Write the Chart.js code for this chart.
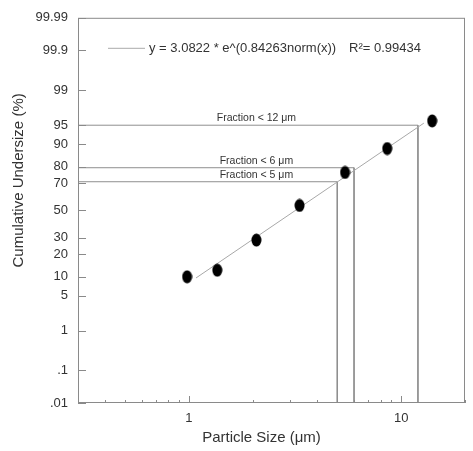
<!DOCTYPE html>
<html>
<head>
<meta charset="utf-8">
<script src="https://cdn.jsdelivr.net/npm/chart.js@4.4.1/dist/chart.umd.min.js"></script>
<style>
html, body { margin: 0; padding: 0; background: #fff; }
#wrap { width: 473px; height: 451px; }
</style>
</head>
<body>
<div id="wrap"><canvas id="main-chart"></canvas></div>
<script>
// measured points: particle size (um) vs cumulative undersize (%)
const particleSize = [0.98, 1.36, 2.08, 3.32, 5.44, 8.6, 14.0];
const undersize = [10.0, 12.4, 28.3, 53.8, 76.8, 88.4, 95.8];

// fitted line end points
const fitSize = [1.08, 12.8];
const fitUndersize = [9.6, 95.4];
const fitLabel = 'y = 3.0822 * e^(0.84263norm(x))';
const fitR2 = 'R\u00b2= 0.99434';

// "fraction below" guide lines
const refSizes = [12, 6, 5];
const refUndersize = [95, 79.5, 71];
const refLabels = ['Fraction < 12 \u03bcm', 'Fraction < 6 \u03bcm', 'Fraction < 5 \u03bcm'];

// axes
const xMin = 0.3;
const xMax = 20;
const xTicks = [0.3, 0.4, 0.5, 0.6, 0.7, 0.8, 0.9, 1, 2, 3, 4, 5, 6, 7, 8, 9, 10, 20];
const xMajor = [1, 10];
const yTicks = [0.01, 0.1, 1, 5, 10, 20, 30, 50, 70, 80, 90, 95, 99, 99.9, 99.99];
const yTickLabels = ['.01', '.1', '1', '5', '10', '20', '30', '50', '70', '80', '90', '95', '99', '99.9', '99.99'];

const xTitle = 'Particle Size (\u03bcm)';
const yTitle = 'Cumulative Undersize (%)';

const FONT = '"Liberation Sans", Arial, sans-serif';

// inverse normal CDF (probability axis), Acklam's approximation
function probit(pct) {
    const p = pct / 100;
    const a = [-3.969683028665376e+01, 2.209460984245205e+02, -2.759285104469687e+02, 1.383577518672690e+02, -3.066479806614716e+01, 2.506628277459239e+00];
    const b = [-5.447609879822406e+01, 1.615858368580409e+02, -1.556989798598866e+02, 6.680131188771972e+01, -1.328068155288572e+01];
    const c = [-7.784894002430293e-03, -3.223964580411365e-01, -2.400758277161838e+00, -2.549732539343734e+00, 4.374664141464968e+00, 2.938163982698783e+00];
    const d = [7.784695709041462e-03, 3.224671290700398e-01, 2.445134137142996e+00, 3.754408661907416e+00];
    const pl = 0.02425;
    let q, r;
    if (p < pl) {
        q = Math.sqrt(-2 * Math.log(p));
        return (((((c[0]*q+c[1])*q+c[2])*q+c[3])*q+c[4])*q+c[5]) / ((((d[0]*q+d[1])*q+d[2])*q+d[3])*q+1);
    }
    if (p > 1 - pl) {
        q = Math.sqrt(-2 * Math.log(1 - p));
        return -(((((c[0]*q+c[1])*q+c[2])*q+c[3])*q+c[4])*q+c[5]) / ((((d[0]*q+d[1])*q+d[2])*q+d[3])*q+1);
    }
    q = p - 0.5;
    r = q * q;
    return (((((a[0]*r+a[1])*r+a[2])*r+a[3])*r+a[4])*r+a[5])*q / (((((b[0]*r+b[1])*r+b[2])*r+b[3])*r+b[4])*r+1);
}

const toPoints = (xs, ys) => xs.map((x, i) => ({ x: x, y: probit(ys[i]) }));

// slightly tall dot, as in the scanned figure
const dot = document.createElement('canvas');
dot.width = 11;
dot.height = 14;
const dctx = dot.getContext('2d');
dctx.fillStyle = '#000';
dctx.beginPath();
dctx.ellipse(5.5, 7, 5, 6.5, 0, 0, Math.PI * 2);
dctx.fill();

const refDatasets = refSizes.map((s, i) => ({
    label: refLabels[i],
    data: [
        { x: xMin, y: probit(refUndersize[i]) },
        { x: s, y: probit(refUndersize[i]) },
        { x: s, y: probit(yTicks[0]) }
    ],
    showLine: true,
    borderColor: '#8f8f8f',
    borderWidth: 1,
    pointRadius: 0,
    order: 3
}));

const plotDecor = {
    id: 'plotDecor',
    afterDraw(chart) {
        const { ctx, chartArea: ca, scales } = chart;
        const xs = scales.x, ys = scales.y;
        ctx.save();

        // frame
        ctx.strokeStyle = '#8a8a8a';
        ctx.lineWidth = 1;
        ctx.strokeRect(ca.left + 0.5, ca.top + 0.5, ca.right - ca.left - 1, ca.bottom - ca.top - 1);

        // inside tick marks
        ctx.beginPath();
        ys.ticks.forEach(t => {
            const y = Math.round(ys.getPixelForValue(t.value)) + 0.5;
            ctx.moveTo(ca.left, y);
            ctx.lineTo(ca.left + 8, y);
        });
        xs.ticks.forEach(t => {
            const x = Math.round(xs.getPixelForValue(t.value)) + 0.5;
            const len = xMajor.includes(t.value) ? 7 : 3;
            ctx.moveTo(x, ca.bottom);
            ctx.lineTo(x, ca.bottom - len);
        });
        ctx.stroke();

        // legend
        ctx.strokeStyle = '#aaaaaa';
        ctx.beginPath();
        ctx.moveTo(ca.left + 30, ca.top + 30.5);
        ctx.lineTo(ca.left + 67, ca.top + 30.5);
        ctx.stroke();
        ctx.fillStyle = '#333';
        ctx.font = '13px ' + FONT;
        ctx.textBaseline = 'middle';
        ctx.textAlign = 'left';
        ctx.fillText(fitLabel, ca.left + 71, ca.top + 31);
        ctx.fillText(fitR2, ca.left + 271, ca.top + 31);

        // guide labels
        ctx.font = '10.5px ' + FONT;
        ctx.textAlign = 'center';
        refLabels.forEach((lab, i) => {
            const y = ys.getPixelForValue(probit(refUndersize[i]));
            ctx.fillText(lab, xs.getPixelForValue(2.08), y - 7);
        });

        // axis titles
        ctx.font = '15px ' + FONT;
        ctx.fillText(xTitle, (ca.left + ca.right) / 2 - 10, ca.bottom + 35);
        ctx.translate(19, (ca.top + ca.bottom) / 2 - 30);
        ctx.rotate(-Math.PI / 2);
        ctx.fillText(yTitle, 0, 0);
        ctx.restore();
    }
};

const mainChart = new Chart(document.getElementById('main-chart'), {
    type: 'scatter',
    data: {
        datasets: [
            {
                label: 'measured',
                data: toPoints(particleSize, undersize),
                pointStyle: dot,
                order: 1
            },
            {
                label: fitLabel,
                data: toPoints(fitSize, fitUndersize),
                showLine: true,
                borderColor: '#a8a8a8',
                borderWidth: 1,
                pointRadius: 0,
                order: 2
            },
            ...refDatasets
        ]
    },
    options: {
        responsive: true,
        maintainAspectRatio: false,
        animation: false,
        layout: { padding: { top: 15, right: 6, left: 0, bottom: 0 } },
        plugins: {
            legend: { display: false },
            tooltip: { enabled: false }
        },
        scales: {
            x: {
                type: 'logarithmic',
                min: xMin,
                max: xMax,
                afterBuildTicks: s => { s.ticks = xTicks.map(v => ({ value: v })); },
                afterFit: s => { s.height = 48; },
                grid: { display: false, drawTicks: false },
                border: { display: false },
                ticks: {
                    autoSkip: false,
                    maxRotation: 0,
                    padding: 8,
                    color: '#333',
                    font: { family: FONT, size: 13 },
                    callback: v => xMajor.includes(v) ? String(v) : ''
                }
            },
            y: {
                type: 'linear',
                min: probit(yTicks[0]),
                max: probit(yTicks[yTicks.length - 1]),
                afterBuildTicks: s => { s.ticks = yTicks.map(v => ({ value: probit(v) })); },
                afterFit: s => { s.width = 78; },
                grid: { display: false, drawTicks: false },
                border: { display: false },
                ticks: {
                    autoSkip: false,
                    padding: 10,
                    color: '#333',
                    font: { family: FONT, size: 13 },
                    callback: (v, i) => yTickLabels[i]
                }
            }
        }
    },
    plugins: [plotDecor]
});
</script>
</body>
</html>
